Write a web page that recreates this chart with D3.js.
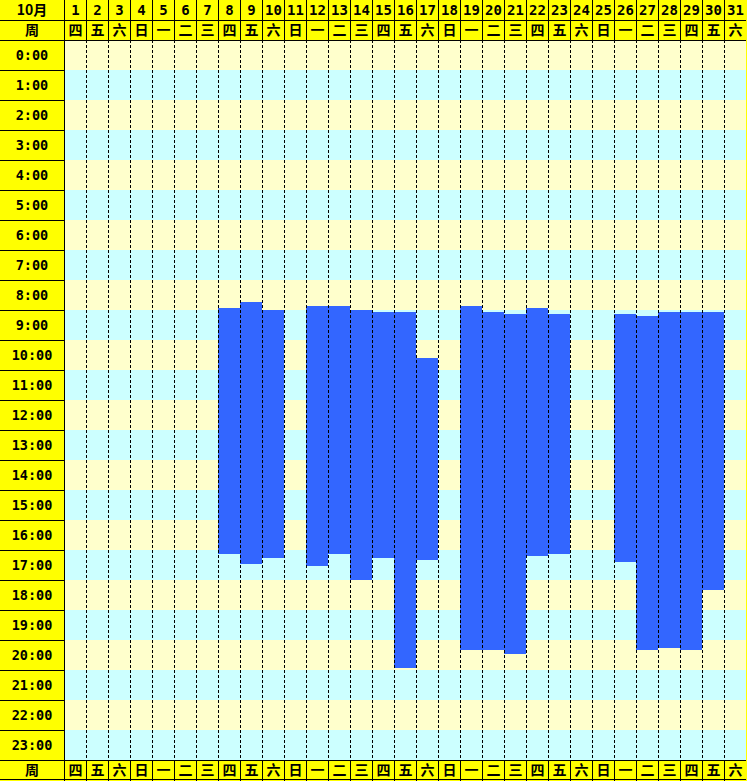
<!DOCTYPE html>
<html><head><meta charset="utf-8">
<script src="https://cdn.jsdelivr.net/npm/d3@7"></script>
<style>body{margin:0;background:#fff}svg{display:block}</style>
</head><body>
<script>
const monthLabel = "10月";
const weekLabel = "周";
const days = d3.range(1, 32);
const weekdays = ["四","五","六","日","一","二","三","四","五","六","日","一","二","三","四","五","六","日","一","二","三","四","五","六","日","一","二","三","四","五","六"];
const hourLabels = d3.range(0, 24).map(h => h + ":00");
const workDays = [8, 9, 10, 12, 13, 14, 15, 16, 17, 19, 20, 21, 22, 23, 26, 27, 28, 29, 30];
const startTimes = ["8:56","8:44","9:00","8:52","8:52","9:00","9:04","9:04","10:36","8:52","9:04","9:08","8:56","9:08","9:08","9:12","9:04","9:04","9:04"];
const endTimes = ["17:08","17:28","17:16","17:32","17:08","18:00","17:16","20:56","17:20","20:20","20:20","20:28","17:12","17:08","17:24","20:20","20:16","20:20","18:20"];

(function () {
const W = 747, H = 781;
const gLeft = 64, gRight = 746, gTop = 40, gBottom = 760, rowH = 20;
const toH = s => { const [h, m] = s.split(":").map(Number); return h + m / 60; };

const svg = d3.select("body").append("svg").attr("width", W).attr("height", H);
const x = d3.scaleBand().domain(days).range([gLeft, gRight]).paddingInner(0).paddingOuter(0);
const y = d3.scaleLinear().domain([0, 24]).range([gTop, gBottom]);

const YEL = "#FFFF00", C1 = "#FFFFCC", C2 = "#CCFFFF", BAR = "#3366FF";
const font = "'DejaVu Sans Mono','Noto Sans CJK SC',monospace";
const cjk = "'Noto Sans CJK SC',sans-serif";

svg.append("rect").attr("x", 0).attr("y", 0).attr("width", W).attr("height", H).attr("fill", YEL);
svg.append("g").selectAll("rect").data(hourLabels).join("rect")
  .attr("x", gLeft).attr("width", gRight - gLeft)
  .attr("y", (d, i) => y(i)).attr("height", (d, i) => y(i + 1) - y(i))
  .attr("fill", (d, i) => i % 2 ? C2 : C1);

svg.append("g").selectAll("rect").data(workDays).join("rect")
  .attr("x", d => x(d)).attr("width", x.bandwidth())
  .attr("y", (d, i) => y(toH(startTimes[i])))
  .attr("height", (d, i) => y(toH(endTimes[i])) - y(toH(startTimes[i])))
  .attr("fill", BAR);

const g = svg.append("g").attr("stroke", "#000").attr("stroke-width", 1).attr("shape-rendering", "crispEdges");
days.slice(1).forEach(d => {
  const xx = Math.round(x(d)) + 0.5;
  g.append("line").attr("x1", xx).attr("x2", xx).attr("y1", 0).attr("y2", gTop);
  g.append("line").attr("x1", xx).attr("x2", xx).attr("y1", gTop).attr("y2", gBottom).attr("stroke-dasharray", "3,2");
  g.append("line").attr("x1", xx).attr("x2", xx).attr("y1", gBottom).attr("y2", H);
});
g.append("line").attr("x1", gLeft + 0.5).attr("x2", gLeft + 0.5).attr("y1", 0).attr("y2", H);
[rowH, gTop].forEach(v => g.append("line").attr("x1", 0).attr("x2", gRight).attr("y1", v + 0.5).attr("y2", v + 0.5));
d3.range(1, 24).forEach(i => g.append("line").attr("x1", 0).attr("x2", gLeft).attr("y1", y(i) + 0.5).attr("y2", y(i) + 0.5));
g.append("line").attr("x1", 0).attr("x2", gRight).attr("y1", gBottom + 0.5).attr("y2", gBottom + 0.5);
g.append("line").attr("x1", 0).attr("x2", gRight).attr("y1", H - 1.5).attr("y2", H - 1.5);

const t = svg.append("g").attr("fill", "#000").attr("font-weight", "bold").attr("text-anchor", "middle");
t.append("text").attr("x", gLeft / 2).attr("y", rowH / 2).attr("dy", "0.36em").attr("font-family", cjk).attr("font-size", 14).text(monthLabel);
t.append("text").attr("x", gLeft / 2).attr("y", rowH * 1.5).attr("dy", "0.36em").attr("font-family", cjk).attr("font-size", 14).text(weekLabel);
t.append("text").attr("x", gLeft / 2).attr("y", gBottom + rowH / 2).attr("dy", "0.36em").attr("font-family", cjk).attr("font-size", 14).text(weekLabel);
t.selectAll(".dn").data(days).join("text").attr("class", "dn")
  .attr("x", d => x(d) + x.bandwidth() / 2 + 0.5).attr("y", rowH / 2).attr("dy", "0.36em")
  .attr("font-family", font).attr("font-size", 14).text(d => d);
[rowH * 1.5, gBottom + rowH / 2].forEach(yy => {
  t.append("g").selectAll("text").data(days).join("text")
    .attr("x", d => x(d) + x.bandwidth() / 2 + 0.5).attr("y", yy).attr("dy", "0.36em")
    .attr("font-family", cjk).attr("font-size", 14).text((d, i) => weekdays[i]);
});
t.selectAll(".hl").data(hourLabels).join("text").attr("class", "hl")
  .attr("x", gLeft / 2).attr("y", (d, i) => (y(i) + y(i + 1)) / 2).attr("dy", "0.36em")
  .attr("font-family", font).attr("font-size", 13.5).text(d => d);
})();
</script>
</body></html>
